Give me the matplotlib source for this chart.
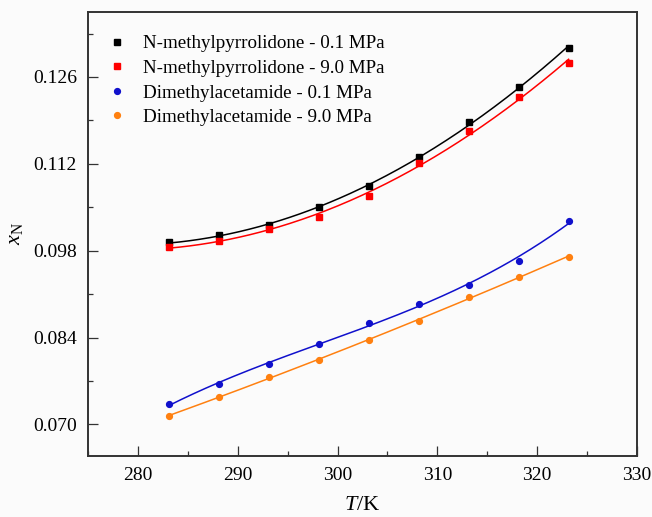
import numpy as np
import matplotlib
matplotlib.use("Agg")
from matplotlib import pyplot as plt
from matplotlib.ticker import MultipleLocator

plt.rcParams['font.family'] = ['Liberation Serif', 'DejaVu Serif']
plt.rcParams['mathtext.fontset'] = 'custom'
plt.rcParams['mathtext.it'] = 'Liberation Serif:italic'
plt.rcParams['mathtext.rm'] = 'Liberation Serif'

# temperatures (K)
T = [283.15, 288.15, 293.15, 298.15, 303.15, 308.15, 313.15, 318.15, 323.15]

# mole fraction solubility
nmp_01 = [0.09936, 0.10049, 0.10210, 0.10500, 0.10844, 0.11306, 0.11870, 0.12439, 0.13068]
nmp_90 = [0.09861, 0.09957, 0.10151, 0.10339, 0.10687, 0.11210, 0.11725, 0.12278, 0.12821]
dma_01 = [0.07335, 0.07648, 0.07970, 0.08292, 0.08641, 0.08942, 0.09253, 0.09635, 0.10280]
dma_90 = [0.07137, 0.07448, 0.07766, 0.08040, 0.08367, 0.08663, 0.09055, 0.09377, 0.09704]

labels = ["N-methylpyrrolidone - 0.1 MPa", "N-methylpyrrolidone - 9.0 MPa",
          "Dimethylacetamide - 0.1 MPa", "Dimethylacetamide - 9.0 MPa"]
series = [nmp_01, nmp_90, dma_01, dma_90]
colors = ['black', '#ff0000', '#1010cc', '#ff8010']
markers = ['s', 's', 'o', 'o']
fit_deg = [2, 2, 3, 2]

bg = '#fbfbfb'
fig = plt.figure(figsize=(6.52, 5.17), dpi=100, facecolor=bg)
ax = fig.add_axes([0.135, 0.1186, 0.842, 0.8588], facecolor=bg)

tt = np.linspace(T[0], T[-1], 200)
for y, c, m, lab, d in zip(series, colors, markers, labels, fit_deg):
    coef = np.polyfit(T, y, d)
    ax.plot(tt, np.polyval(coef, tt), color=c, lw=1.1, zorder=2)
    ax.plot(T, y, ls='none', marker=m, ms=4.5 if m == 's' else 4.2,
            color=c, label=lab, zorder=3)

ax.set_xlim(275, 330)
ax.set_ylim(0.06497, 0.13652)
ax.xaxis.set_major_locator(MultipleLocator(10))
ax.xaxis.set_minor_locator(MultipleLocator(5))
ax.yaxis.set_major_locator(MultipleLocator(0.014))
ax.yaxis.set_minor_locator(MultipleLocator(0.007))
ax.yaxis.set_major_formatter(matplotlib.ticker.FormatStrFormatter('%.3f'))

ax.tick_params(which='both', direction='in', top=False, right=False,
               labelsize=14, width=0.9, color='#333333', pad=8)
ax.tick_params(which='major', length=7)
ax.tick_params(which='minor', length=3.5)
for s in ax.spines.values():
    s.set_linewidth(1.4)
    s.set_color('#333333')

ax.set_xlabel('$T$/K', fontsize=16, labelpad=9)
ax.set_ylabel('$x_\\mathrm{N}$', fontsize=16, labelpad=6)

ax.legend(loc='upper left', frameon=False, fontsize=13.7, handlelength=1.0,
          handletextpad=0.9, labelspacing=0.38, borderaxespad=0.6,
          bbox_to_anchor=(0.0, 0.99))

fig.savefig('out.png', dpi=100, facecolor=bg)
